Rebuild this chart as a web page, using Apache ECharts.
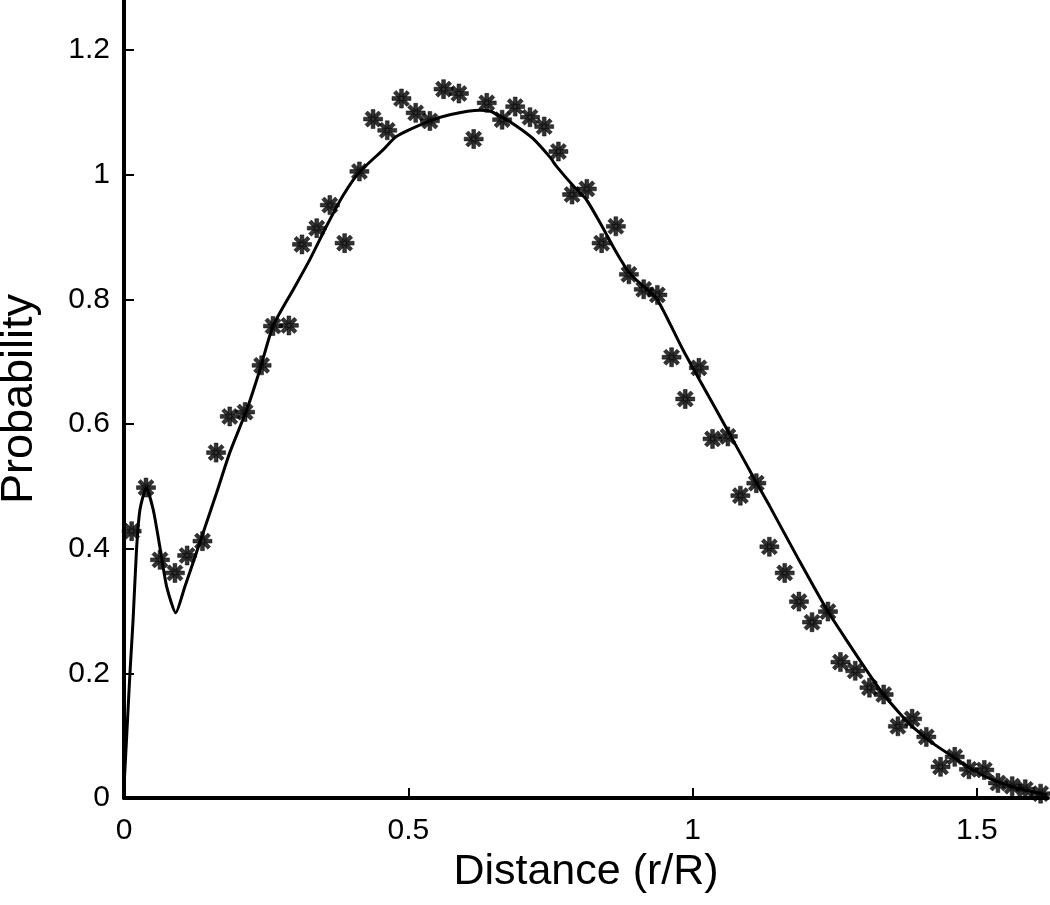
<!DOCTYPE html>
<html>
<head>
<meta charset="utf-8">
<script src="https://cdn.jsdelivr.net/npm/echarts@6/dist/echarts.min.js"></script>
<style>
html,body{margin:0;padding:0;background:#fff;}
#chart{width:1050px;height:905px;}
</style>
</head>
<body>
<div id="chart"></div>
<script>
// Measured points (asterisks)
const pointX = [0.0135,0.0387,0.0633,0.0896,0.111,0.138,0.162,0.186,0.213,0.242,0.262,0.290,0.313,0.339,0.362,0.388,0.414,0.438,0.463,0.488,0.513,0.538,0.562,0.589,0.615,0.638,0.665,0.688,0.714,0.739,0.764,0.788,0.814,0.840,0.865,0.888,0.914,0.938,0.963,0.987,1.011,1.035,1.062,1.084,1.112,1.135,1.162,1.187,1.210,1.238,1.260,1.286,1.311,1.336,1.361,1.386,1.411,1.436,1.461,1.486,1.513,1.537,1.562,1.585,1.612];
const pointY = [0.428,0.498,0.382,0.361,0.389,0.412,0.554,0.612,0.619,0.694,0.757,0.758,0.888,0.914,0.951,0.890,1.005,1.089,1.071,1.122,1.099,1.086,1.137,1.130,1.057,1.115,1.088,1.109,1.092,1.077,1.037,0.968,0.977,0.890,0.917,0.840,0.816,0.807,0.707,0.640,0.690,0.576,0.580,0.485,0.505,0.403,0.361,0.315,0.282,0.299,0.218,0.204,0.177,0.166,0.115,0.127,0.098,0.050,0.066,0.046,0.045,0.024,0.019,0.014,0.007];

// Fitted curve (solid line)
const curveX = [0.001,0.005,0.0105,0.016,0.022,0.028,0.039,0.0515,0.063,0.075,0.091,0.107,0.125,0.139,0.163,0.186,0.216,0.239,0.262,0.298,0.327,0.356,0.385,0.413,0.456,0.479,0.538,0.573,0.626,0.643,0.667,0.690,0.719,0.749,0.760,0.790,0.813,0.837,0.866,0.889,0.913,0.936,0.954,0.983,1.012,1.042,1.071,1.088,1.112,1.135,1.188,1.238,1.270,1.305,1.334,1.364,1.387,1.422,1.458,1.493,1.528,1.563,1.598,1.624];
const curveY = [0.035,0.104,0.201,0.286,0.398,0.462,0.498,0.462,0.403,0.339,0.297,0.339,0.387,0.425,0.490,0.554,0.623,0.687,0.757,0.816,0.864,0.917,0.966,1.003,1.040,1.061,1.086,1.096,1.103,1.102,1.091,1.078,1.058,1.028,1.014,0.982,0.960,0.923,0.875,0.842,0.821,0.802,0.772,0.719,0.671,0.622,0.574,0.546,0.506,0.469,0.380,0.299,0.254,0.206,0.168,0.136,0.114,0.088,0.066,0.045,0.029,0.018,0.010,0.005];

const xTicks = { min: 0, max: 1.625, interval: 0.5 };
const yTicks = { min: 0, max: 1.28, interval: 0.2 };

const asterisk = 'path://M-10,-2L10,-2L10,2L-10,2Z' +
  'M-2,-10L2,-10L2,10L-2,10Z' +
  'M-5.66,-8.49L8.49,5.66L5.66,8.49L-8.49,-5.66Z' +
  'M-8.49,5.66L5.66,-8.49L8.49,-5.66L-5.66,8.49Z';

const font = '"Liberation Sans", Arial, sans-serif';
const chart = echarts.init(document.getElementById('chart'), null, {renderer: 'canvas'});

const axisCommon = {
  type: 'value',
  splitLine: { show: false },
  axisLine: { show: true, lineStyle: { color: '#000', width: 4 } },
  axisTick: { show: true, inside: true, length: 10, lineStyle: { color: '#000', width: 2 } },
  nameLocation: 'middle'
};

chart.setOption({
  animation: false,
  backgroundColor: '#fff',
  grid: { left: 124, right: 2, top: 0, bottom: 107, containLabel: false, outerBoundsMode: 'none' },
  xAxis: Object.assign({}, axisCommon, {
    min: xTicks.min, max: xTicks.max, interval: xTicks.interval,
    name: 'Distance (r/R)', nameGap: 46,
    nameTextStyle: { color: '#000', fontSize: 43, fontFamily: font },
    axisLabel: { color: '#000', fontSize: 30, fontFamily: font, margin: 18, showMaxLabel: false }
  }),
  yAxis: Object.assign({}, axisCommon, {
    min: yTicks.min, max: yTicks.max, interval: yTicks.interval,
    name: 'Probability', nameGap: 82,
    nameTextStyle: { color: '#000', fontSize: 45, fontFamily: font },
    axisLabel: { color: '#000', fontSize: 30, fontFamily: font, margin: 14, showMaxLabel: false }
  }),
  series: [
    {
      type: 'line',
      data: curveX.map((x, i) => [x, curveY[i]]),
      showSymbol: false,
      symbol: 'none',
      smooth: 0.2,
      lineStyle: { color: '#000', width: 3 },
      z: 2
    },
    {
      type: 'scatter',
      data: pointX.map((x, i) => [x, pointY[i]]),
      symbol: asterisk,
      symbolSize: 19,
      itemStyle: { color: '#000', borderColor: '#000', borderWidth: 0.6 },
      z: 3
    }
  ]
});
</script>
</body>
</html>
